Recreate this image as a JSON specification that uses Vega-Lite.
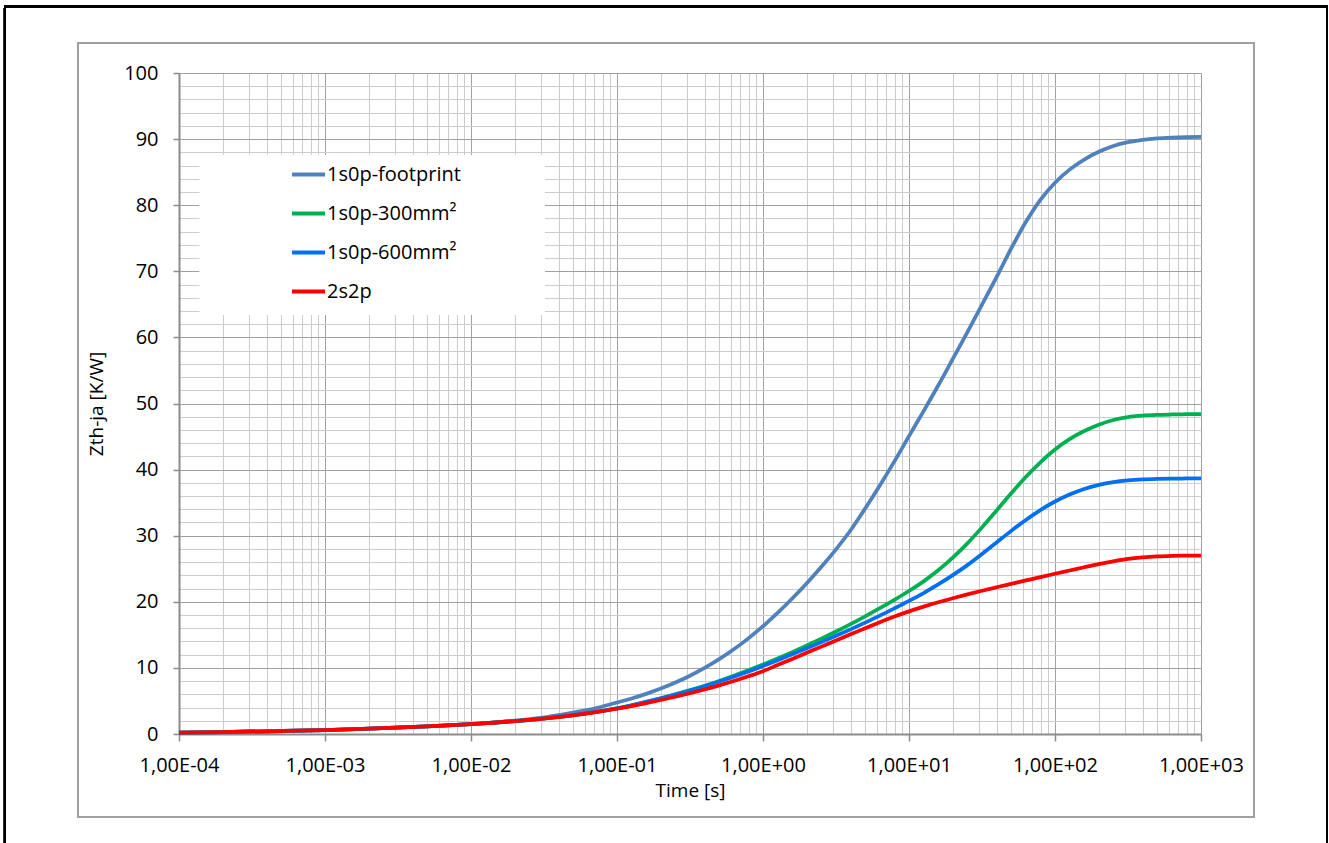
{
  "$schema": "https://vega.github.io/schema/vega-lite/v6.json",
  "width": 1022,
  "height": 661,
  "autosize": {"type": "none"},
  "padding": {"left": 179, "top": 73, "right": 128, "bottom": 109},
  "background": "white",
  "data": {
    "values": [
      {"series": "1s0p-footprint", "t": 0.0001, "z": 0.2},
      {"series": "1s0p-footprint", "t": 0.0002, "z": 0.3},
      {"series": "1s0p-footprint", "t": 0.0005, "z": 0.45},
      {"series": "1s0p-footprint", "t": 0.001, "z": 0.6},
      {"series": "1s0p-footprint", "t": 0.002, "z": 0.82},
      {"series": "1s0p-footprint", "t": 0.005, "z": 1.15},
      {"series": "1s0p-footprint", "t": 0.01, "z": 1.5},
      {"series": "1s0p-footprint", "t": 0.02, "z": 2.02},
      {"series": "1s0p-footprint", "t": 0.03, "z": 2.45},
      {"series": "1s0p-footprint", "t": 0.05, "z": 3.25},
      {"series": "1s0p-footprint", "t": 0.07, "z": 3.85},
      {"series": "1s0p-footprint", "t": 0.1, "z": 4.77},
      {"series": "1s0p-footprint", "t": 0.1259, "z": 5.37},
      {"series": "1s0p-footprint", "t": 0.1585, "z": 6.07},
      {"series": "1s0p-footprint", "t": 0.1995, "z": 6.87},
      {"series": "1s0p-footprint", "t": 0.2512, "z": 7.78},
      {"series": "1s0p-footprint", "t": 0.3162, "z": 8.82},
      {"series": "1s0p-footprint", "t": 0.3981, "z": 10.0},
      {"series": "1s0p-footprint", "t": 0.5012, "z": 11.32},
      {"series": "1s0p-footprint", "t": 0.631, "z": 12.81},
      {"series": "1s0p-footprint", "t": 0.7943, "z": 14.47},
      {"series": "1s0p-footprint", "t": 1, "z": 16.3},
      {"series": "1s0p-footprint", "t": 1.259, "z": 18.31},
      {"series": "1s0p-footprint", "t": 1.585, "z": 20.49},
      {"series": "1s0p-footprint", "t": 1.995, "z": 22.81},
      {"series": "1s0p-footprint", "t": 2.512, "z": 25.29},
      {"series": "1s0p-footprint", "t": 3.162, "z": 27.94},
      {"series": "1s0p-footprint", "t": 3.981, "z": 30.82},
      {"series": "1s0p-footprint", "t": 5.012, "z": 34.11},
      {"series": "1s0p-footprint", "t": 6.31, "z": 37.59},
      {"series": "1s0p-footprint", "t": 7.943, "z": 41.24},
      {"series": "1s0p-footprint", "t": 10, "z": 45.06},
      {"series": "1s0p-footprint", "t": 12.59, "z": 48.85},
      {"series": "1s0p-footprint", "t": 15.85, "z": 52.72},
      {"series": "1s0p-footprint", "t": 19.95, "z": 56.75},
      {"series": "1s0p-footprint", "t": 25.12, "z": 60.8},
      {"series": "1s0p-footprint", "t": 31.62, "z": 64.95},
      {"series": "1s0p-footprint", "t": 39.81, "z": 69.13},
      {"series": "1s0p-footprint", "t": 50.12, "z": 73.45},
      {"series": "1s0p-footprint", "t": 63.1, "z": 77.45},
      {"series": "1s0p-footprint", "t": 79.43, "z": 80.82},
      {"series": "1s0p-footprint", "t": 100, "z": 83.4},
      {"series": "1s0p-footprint", "t": 125.9, "z": 85.38},
      {"series": "1s0p-footprint", "t": 158.5, "z": 86.9},
      {"series": "1s0p-footprint", "t": 199.5, "z": 88.08},
      {"series": "1s0p-footprint", "t": 251.2, "z": 88.95},
      {"series": "1s0p-footprint", "t": 316.2, "z": 89.53},
      {"series": "1s0p-footprint", "t": 398.1, "z": 89.89},
      {"series": "1s0p-footprint", "t": 501.2, "z": 90.11},
      {"series": "1s0p-footprint", "t": 631, "z": 90.23},
      {"series": "1s0p-footprint", "t": 794.3, "z": 90.3},
      {"series": "1s0p-footprint", "t": 1000, "z": 90.33},

      {"series": "1s0p-300mm²", "t": 0.0001, "z": 0.2},
      {"series": "1s0p-300mm²", "t": 0.0002, "z": 0.3},
      {"series": "1s0p-300mm²", "t": 0.0005, "z": 0.45},
      {"series": "1s0p-300mm²", "t": 0.001, "z": 0.6},
      {"series": "1s0p-300mm²", "t": 0.002, "z": 0.82},
      {"series": "1s0p-300mm²", "t": 0.005, "z": 1.15},
      {"series": "1s0p-300mm²", "t": 0.01, "z": 1.5},
      {"series": "1s0p-300mm²", "t": 0.02, "z": 1.95},
      {"series": "1s0p-300mm²", "t": 0.03, "z": 2.3},
      {"series": "1s0p-300mm²", "t": 0.05, "z": 2.85},
      {"series": "1s0p-300mm²", "t": 0.07, "z": 3.3},
      {"series": "1s0p-300mm²", "t": 0.1, "z": 3.88},
      {"series": "1s0p-300mm²", "t": 0.1259, "z": 4.35},
      {"series": "1s0p-300mm²", "t": 0.1585, "z": 4.86},
      {"series": "1s0p-300mm²", "t": 0.1995, "z": 5.41},
      {"series": "1s0p-300mm²", "t": 0.2512, "z": 6.0},
      {"series": "1s0p-300mm²", "t": 0.3162, "z": 6.63},
      {"series": "1s0p-300mm²", "t": 0.3981, "z": 7.3},
      {"series": "1s0p-300mm²", "t": 0.5012, "z": 8.03},
      {"series": "1s0p-300mm²", "t": 0.631, "z": 8.8},
      {"series": "1s0p-300mm²", "t": 0.7943, "z": 9.63},
      {"series": "1s0p-300mm²", "t": 1, "z": 10.5},
      {"series": "1s0p-300mm²", "t": 1.259, "z": 11.42},
      {"series": "1s0p-300mm²", "t": 1.585, "z": 12.38},
      {"series": "1s0p-300mm²", "t": 1.995, "z": 13.38},
      {"series": "1s0p-300mm²", "t": 2.512, "z": 14.42},
      {"series": "1s0p-300mm²", "t": 3.162, "z": 15.5},
      {"series": "1s0p-300mm²", "t": 3.981, "z": 16.63},
      {"series": "1s0p-300mm²", "t": 5.012, "z": 17.8},
      {"series": "1s0p-300mm²", "t": 6.31, "z": 19.03},
      {"series": "1s0p-300mm²", "t": 7.943, "z": 20.3},
      {"series": "1s0p-300mm²", "t": 10, "z": 21.63},
      {"series": "1s0p-300mm²", "t": 12.59, "z": 23.09},
      {"series": "1s0p-300mm²", "t": 15.85, "z": 24.77},
      {"series": "1s0p-300mm²", "t": 19.95, "z": 26.68},
      {"series": "1s0p-300mm²", "t": 25.12, "z": 28.84},
      {"series": "1s0p-300mm²", "t": 31.62, "z": 31.26},
      {"series": "1s0p-300mm²", "t": 39.81, "z": 33.82},
      {"series": "1s0p-300mm²", "t": 50.12, "z": 36.41},
      {"series": "1s0p-300mm²", "t": 63.1, "z": 38.89},
      {"series": "1s0p-300mm²", "t": 79.43, "z": 41.11},
      {"series": "1s0p-300mm²", "t": 100, "z": 43.04},
      {"series": "1s0p-300mm²", "t": 125.9, "z": 44.61},
      {"series": "1s0p-300mm²", "t": 158.5, "z": 45.84},
      {"series": "1s0p-300mm²", "t": 199.5, "z": 46.8},
      {"series": "1s0p-300mm²", "t": 251.2, "z": 47.5},
      {"series": "1s0p-300mm²", "t": 316.2, "z": 47.95},
      {"series": "1s0p-300mm²", "t": 398.1, "z": 48.17},
      {"series": "1s0p-300mm²", "t": 501.2, "z": 48.28},
      {"series": "1s0p-300mm²", "t": 631, "z": 48.34},
      {"series": "1s0p-300mm²", "t": 794.3, "z": 48.38},
      {"series": "1s0p-300mm²", "t": 1000, "z": 48.4},

      {"series": "1s0p-600mm²", "t": 0.0001, "z": 0.2},
      {"series": "1s0p-600mm²", "t": 0.0002, "z": 0.3},
      {"series": "1s0p-600mm²", "t": 0.0005, "z": 0.45},
      {"series": "1s0p-600mm²", "t": 0.001, "z": 0.6},
      {"series": "1s0p-600mm²", "t": 0.002, "z": 0.82},
      {"series": "1s0p-600mm²", "t": 0.005, "z": 1.15},
      {"series": "1s0p-600mm²", "t": 0.01, "z": 1.5},
      {"series": "1s0p-600mm²", "t": 0.02, "z": 1.95},
      {"series": "1s0p-600mm²", "t": 0.03, "z": 2.3},
      {"series": "1s0p-600mm²", "t": 0.05, "z": 2.85},
      {"series": "1s0p-600mm²", "t": 0.07, "z": 3.3},
      {"series": "1s0p-600mm²", "t": 0.1, "z": 3.88},
      {"series": "1s0p-600mm²", "t": 0.1259, "z": 4.35},
      {"series": "1s0p-600mm²", "t": 0.1585, "z": 4.85},
      {"series": "1s0p-600mm²", "t": 0.1995, "z": 5.39},
      {"series": "1s0p-600mm²", "t": 0.2512, "z": 5.97},
      {"series": "1s0p-600mm²", "t": 0.3162, "z": 6.58},
      {"series": "1s0p-600mm²", "t": 0.3981, "z": 7.23},
      {"series": "1s0p-600mm²", "t": 0.5012, "z": 7.93},
      {"series": "1s0p-600mm²", "t": 0.631, "z": 8.67},
      {"series": "1s0p-600mm²", "t": 0.7943, "z": 9.46},
      {"series": "1s0p-600mm²", "t": 1, "z": 10.3},
      {"series": "1s0p-600mm²", "t": 1.259, "z": 11.17},
      {"series": "1s0p-600mm²", "t": 1.585, "z": 12.06},
      {"series": "1s0p-600mm²", "t": 1.995, "z": 12.97},
      {"series": "1s0p-600mm²", "t": 2.512, "z": 13.9},
      {"series": "1s0p-600mm²", "t": 3.162, "z": 14.85},
      {"series": "1s0p-600mm²", "t": 3.981, "z": 15.83},
      {"series": "1s0p-600mm²", "t": 5.012, "z": 16.85},
      {"series": "1s0p-600mm²", "t": 6.31, "z": 17.9},
      {"series": "1s0p-600mm²", "t": 7.943, "z": 19.0},
      {"series": "1s0p-600mm²", "t": 10, "z": 20.13},
      {"series": "1s0p-600mm²", "t": 12.59, "z": 21.33},
      {"series": "1s0p-600mm²", "t": 15.85, "z": 22.63},
      {"series": "1s0p-600mm²", "t": 19.95, "z": 24.03},
      {"series": "1s0p-600mm²", "t": 25.12, "z": 25.55},
      {"series": "1s0p-600mm²", "t": 31.62, "z": 27.23},
      {"series": "1s0p-600mm²", "t": 39.81, "z": 28.98},
      {"series": "1s0p-600mm²", "t": 50.12, "z": 30.73},
      {"series": "1s0p-600mm²", "t": 63.1, "z": 32.39},
      {"series": "1s0p-600mm²", "t": 79.43, "z": 33.88},
      {"series": "1s0p-600mm²", "t": 100, "z": 35.17},
      {"series": "1s0p-600mm²", "t": 125.9, "z": 36.23},
      {"series": "1s0p-600mm²", "t": 158.5, "z": 37.07},
      {"series": "1s0p-600mm²", "t": 199.5, "z": 37.68},
      {"series": "1s0p-600mm²", "t": 251.2, "z": 38.1},
      {"series": "1s0p-600mm²", "t": 316.2, "z": 38.36},
      {"series": "1s0p-600mm²", "t": 398.1, "z": 38.51},
      {"series": "1s0p-600mm²", "t": 501.2, "z": 38.59},
      {"series": "1s0p-600mm²", "t": 631, "z": 38.63},
      {"series": "1s0p-600mm²", "t": 794.3, "z": 38.66},
      {"series": "1s0p-600mm²", "t": 1000, "z": 38.67},

      {"series": "2s2p", "t": 0.0001, "z": 0.2},
      {"series": "2s2p", "t": 0.0002, "z": 0.3},
      {"series": "2s2p", "t": 0.0005, "z": 0.45},
      {"series": "2s2p", "t": 0.001, "z": 0.6},
      {"series": "2s2p", "t": 0.002, "z": 0.82},
      {"series": "2s2p", "t": 0.005, "z": 1.15},
      {"series": "2s2p", "t": 0.01, "z": 1.5},
      {"series": "2s2p", "t": 0.02, "z": 1.95},
      {"series": "2s2p", "t": 0.03, "z": 2.3},
      {"series": "2s2p", "t": 0.05, "z": 2.83},
      {"series": "2s2p", "t": 0.07, "z": 3.27},
      {"series": "2s2p", "t": 0.1, "z": 3.82},
      {"series": "2s2p", "t": 0.1259, "z": 4.23},
      {"series": "2s2p", "t": 0.1585, "z": 4.67},
      {"series": "2s2p", "t": 0.1995, "z": 5.14},
      {"series": "2s2p", "t": 0.2512, "z": 5.64},
      {"series": "2s2p", "t": 0.3162, "z": 6.17},
      {"series": "2s2p", "t": 0.3981, "z": 6.74},
      {"series": "2s2p", "t": 0.5012, "z": 7.35},
      {"series": "2s2p", "t": 0.631, "z": 8.01},
      {"series": "2s2p", "t": 0.7943, "z": 8.73},
      {"series": "2s2p", "t": 1, "z": 9.5},
      {"series": "2s2p", "t": 1.259, "z": 10.43},
      {"series": "2s2p", "t": 1.585, "z": 11.36},
      {"series": "2s2p", "t": 1.995, "z": 12.29},
      {"series": "2s2p", "t": 2.512, "z": 13.22},
      {"series": "2s2p", "t": 3.162, "z": 14.15},
      {"series": "2s2p", "t": 3.981, "z": 15.08},
      {"series": "2s2p", "t": 5.012, "z": 15.99},
      {"series": "2s2p", "t": 6.31, "z": 16.9},
      {"series": "2s2p", "t": 7.943, "z": 17.76},
      {"series": "2s2p", "t": 10, "z": 18.55},
      {"series": "2s2p", "t": 12.59, "z": 19.27},
      {"series": "2s2p", "t": 15.85, "z": 19.93},
      {"series": "2s2p", "t": 19.95, "z": 20.54},
      {"series": "2s2p", "t": 25.12, "z": 21.12},
      {"series": "2s2p", "t": 31.62, "z": 21.67},
      {"series": "2s2p", "t": 39.81, "z": 22.2},
      {"series": "2s2p", "t": 50.12, "z": 22.72},
      {"series": "2s2p", "t": 63.1, "z": 23.23},
      {"series": "2s2p", "t": 79.43, "z": 23.74},
      {"series": "2s2p", "t": 100, "z": 24.24},
      {"series": "2s2p", "t": 125.9, "z": 24.73},
      {"series": "2s2p", "t": 158.5, "z": 25.23},
      {"series": "2s2p", "t": 199.5, "z": 25.71},
      {"series": "2s2p", "t": 251.2, "z": 26.13},
      {"series": "2s2p", "t": 316.2, "z": 26.48},
      {"series": "2s2p", "t": 398.1, "z": 26.71},
      {"series": "2s2p", "t": 501.2, "z": 26.86},
      {"series": "2s2p", "t": 631, "z": 26.94},
      {"series": "2s2p", "t": 794.3, "z": 26.98},
      {"series": "2s2p", "t": 1000, "z": 27.0}
    ]
  },
  "resolve": {"axis": {"x": "independent", "y": "independent"}},
  "layer": [
    {
      "mark": {"type": "rect", "fill": null, "stroke": "black", "strokeWidth": 2},
      "encoding": {
        "x": {"datum": 0.00000643, "type": "quantitative", "scale": {"type": "log", "domain": [0.0001, 1000]}, "axis": null},
        "x2": {"datum": 7295},
        "y": {"datum": 110.1, "type": "quantitative", "scale": {"domain": [0, 100], "nice": false}, "axis": null},
        "y2": {"datum": -19}
      }
    },
    {
      "mark": {"type": "rect", "fill": null, "stroke": "#a0a0a0", "strokeWidth": 1.5},
      "encoding": {
        "x": {"datum": 0.00002033, "type": "quantitative", "scale": {"type": "log", "domain": [0.0001, 1000]}, "axis": null},
        "x2": {"datum": 2307},
        "y": {"datum": 104.54, "type": "quantitative", "scale": {"domain": [0, 100], "nice": false}, "axis": null},
        "y2": {"datum": -12.56}
      }
    },
    {
      "mark": {"type": "rect", "fill": "white", "stroke": null},
      "encoding": {
        "x": {
          "datum": 0.0001392,
          "type": "quantitative",
          "scale": {"type": "log", "domain": [0.0001, 1000]},
          "axis": {
            "orient": "bottom",
            "values": [0.0002, 0.0003, 0.0004, 0.0005, 0.0006, 0.0007, 0.0008, 0.0009,
                       0.002, 0.003, 0.004, 0.005, 0.006, 0.007, 0.008, 0.009,
                       0.02, 0.03, 0.04, 0.05, 0.06, 0.07, 0.08, 0.09,
                       0.2, 0.3, 0.4, 0.5, 0.6, 0.7, 0.8, 0.9,
                       2, 3, 4, 5, 6, 7, 8, 9,
                       20, 30, 40, 50, 60, 70, 80, 90,
                       200, 300, 400, 500, 600, 700, 800, 900],
            "grid": true,
            "gridColor": "#cccccc",
            "gridWidth": 1,
            "labels": false,
            "ticks": false,
            "domain": false,
            "title": null
          }
        },
        "x2": {"datum": 0.03212},
        "y": {
          "datum": 87.59,
          "type": "quantitative",
          "scale": {"domain": [0, 100], "nice": false},
          "axis": {
            "orient": "left",
            "values": [2, 4, 6, 8, 12, 14, 16, 18, 22, 24, 26, 28, 32, 34, 36, 38, 42, 44, 46, 48,
                       52, 54, 56, 58, 62, 64, 66, 68, 72, 74, 76, 78, 82, 84, 86, 88, 92, 94, 96, 98],
            "grid": true,
            "gridColor": "#cccccc",
            "gridWidth": 1,
            "labels": false,
            "ticks": false,
            "domain": false,
            "title": null
          }
        },
        "y2": {"datum": 63.39}
      }
    },
    {
      "mark": {"type": "line", "strokeWidth": 3.75, "interpolate": "monotone"},
      "encoding": {
        "x": {
          "field": "t",
          "type": "quantitative",
          "scale": {"type": "log", "domain": [0.0001, 1000]},
          "axis": {
            "orient": "bottom",
            "values": [0.0001, 0.001, 0.01, 0.1, 1, 10, 100, 1000],
            "grid": true,
            "gridColor": "#a0a0a0",
            "gridWidth": 1,
            "domainColor": "#8c8c8c",
            "domainWidth": 2,
            "tickColor": "#8c8c8c",
            "tickSize": 7,
            "tickWidth": 1.5,
            "labelPadding": 24,
            "labelBaseline": "middle",
            "labelExpr": "'1,00E' + (datum.value < 1 ? '-' : '+') + pad('' + abs(round(log(datum.value) / LN10)), 2, '0', 'left')",
            "labelFlush": false,
            "labelOverlap": false,
            "title": "Time [s]",
            "titleX": 511,
            "titleY": 56,
            "titleBaseline": "middle"
          }
        },
        "y": {
          "field": "z",
          "type": "quantitative",
          "scale": {"domain": [0, 100], "nice": false},
          "axis": {
            "orient": "left",
            "values": [0, 10, 20, 30, 40, 50, 60, 70, 80, 90, 100],
            "grid": true,
            "gridColor": "#a0a0a0",
            "gridWidth": 1,
            "domainColor": "#8c8c8c",
            "domainWidth": 2,
            "tickColor": "#8c8c8c",
            "tickSize": 6,
            "tickWidth": 1.5,
            "labelPadding": 15,
            "format": "d",
            "labelFlush": false,
            "title": "Zth-ja [K/W]",
            "titleX": -83,
            "titleY": 330.5,
            "titleAngle": -90,
            "titleBaseline": "middle"
          }
        },
        "color": {
          "field": "series",
          "type": "nominal",
          "sort": ["1s0p-footprint", "1s0p-300mm²", "1s0p-600mm²", "2s2p"],
          "scale": {
            "domain": ["1s0p-footprint", "1s0p-300mm²", "1s0p-600mm²", "2s2p"],
            "range": ["#4f81bd", "#00b050", "#0070f0", "#ff0000"]
          },
          "legend": {
            "orient": "none",
            "legendX": 111,
            "legendY": 83,
            "title": null,
            "symbolType": "stroke",
            "symbolSize": 1089,
            "symbolStrokeWidth": 4,
            "labelFontSize": 20,
            "labelOffset": 0,
            "rowPadding": 10
          }
        }
      }
    }
  ],
  "config": {
    "font": "Open Sans",
    "view": {"stroke": null},
    "axis": {
      "labelFont": "Open Sans",
      "labelFontSize": 20,
      "labelColor": "#000000",
      "titleFont": "Open Sans",
      "titleFontSize": 19,
      "titleFontWeight": "normal",
      "titleColor": "#000000"
    },
    "legend": {
      "labelFont": "Open Sans",
      "labelColor": "#000000"
    }
  }
}
